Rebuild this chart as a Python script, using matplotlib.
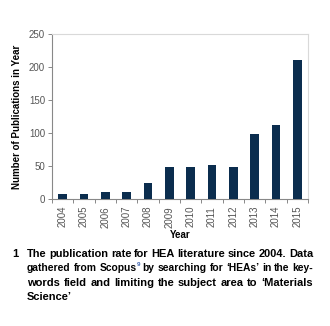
import numpy as np
from matplotlib import pyplot as plt

years = ['2004', '2005', '2006', '2007', '2008', '2009', '2010', '2011', '2012', '2013', '2014', '2015']
publications = [8, 7, 10, 10, 24, 48, 48, 52, 49, 99, 112, 210]
y_ticks = [0, 50, 100, 150, 200, 250]

caption_lines = [
    ['The', 'publication', 'rate', 'for', 'HEA', 'literature', 'since', '2004.', 'Data'],
    ['gathered', 'from', ('Scopus', '9'), 'by', 'searching', 'for', '\u2018HEAs\u2019', 'in', 'the', 'key-'],
    ['words', 'field', 'and', 'limiting', 'the', 'subject', 'area', 'to', '\u2018Materials'],
    ['Science\u2019'],
]

plt.rcParams['font.family'] = ['Liberation Sans', 'DejaVu Sans']

W, H = 330, 326
fig = plt.figure(figsize=(W / 100, H / 100), dpi=100)
fig.patch.set_facecolor('white')

# axes box in pixels: left 52, right 308, top 34, bottom 199
ax = fig.add_axes([52 / W, 1 - 199 / H, 256 / W, 165 / H])
x = np.arange(len(years))
ax.bar(x, publications, width=0.4, color='#0b2d4e', zorder=3)

ax.set_xlim(-0.5, len(years) - 0.5)
ax.set_ylim(0, 250)
ax.set_yticks(y_ticks)
ax.set_yticklabels([str(v) for v in y_ticks], fontsize=7, color='#555555')
ax.set_xticks(x)
ax.set_xticklabels(years, rotation=90, fontsize=7, color='#555555')
ax.tick_params(axis='x', length=0, pad=5)
ax.set_xticks(np.arange(-0.5, len(years), 1), minor=True)
ax.tick_params(axis='x', which='minor', length=3, color='#888888', width=0.7)
ax.tick_params(axis='y', length=3, color='#888888', width=0.7, pad=2)

for side in ['top', 'right']:
    ax.spines[side].set_color('#d9d9d9')
    ax.spines[side].set_linewidth(0.8)
for side in ['left', 'bottom']:
    ax.spines[side].set_color('#888888')
    ax.spines[side].set_linewidth(0.8)

ax.set_ylabel('Number of Publications in Year', fontsize=7, fontweight='bold', labelpad=5)
ax.set_xlabel('Year', fontsize=7, fontweight='bold', labelpad=2)

# justified caption, drawn word by word
fig.canvas.draw()
renderer = fig.canvas.get_renderer()
cap_size = 8
x0, x1 = 27, 313
line_y = [254, 268, 283, 297]


def word_width(s, size):
    t = fig.text(0, 0, s, fontsize=size, fontweight='bold')
    w = t.get_window_extent(renderer).width
    t.remove()
    return w


def line_widths(words, size):
    out = []
    for w in words:
        if isinstance(w, tuple):
            out.append(word_width(w[0], size) + word_width(w[1], size * 0.6))
        else:
            out.append(word_width(w, size))
    return out


fig.text(12 / W, 1 - line_y[0] / H, '1', fontsize=cap_size, fontweight='bold', va='center')
for i, words in enumerate(caption_lines):
    size = cap_size
    widths = line_widths(words, size)
    if i < len(caption_lines) - 1:
        gap = (x1 - x0 - sum(widths)) / (len(words) - 1)
        while gap < 2.6:
            size -= 0.1
            widths = line_widths(words, size)
            gap = (x1 - x0 - sum(widths)) / (len(words) - 1)
    else:
        gap = word_width('a b', size) - word_width('ab', size)
    xp = x0
    yf = 1 - line_y[i] / H
    for w, wd in zip(words, widths):
        if isinstance(w, tuple):
            fig.text(xp / W, yf, w[0], fontsize=size, fontweight='bold', va='center')
            base = word_width(w[0], size)
            fig.text((xp + base) / W, yf + 3.5 / H, w[1], fontsize=size * 0.6,
                     fontweight='bold', va='center', color='#3b62b0')
        else:
            fig.text(xp / W, yf, w, fontsize=size, fontweight='bold', va='center')
        xp += wd + gap

fig.savefig('out.png', dpi=100)
